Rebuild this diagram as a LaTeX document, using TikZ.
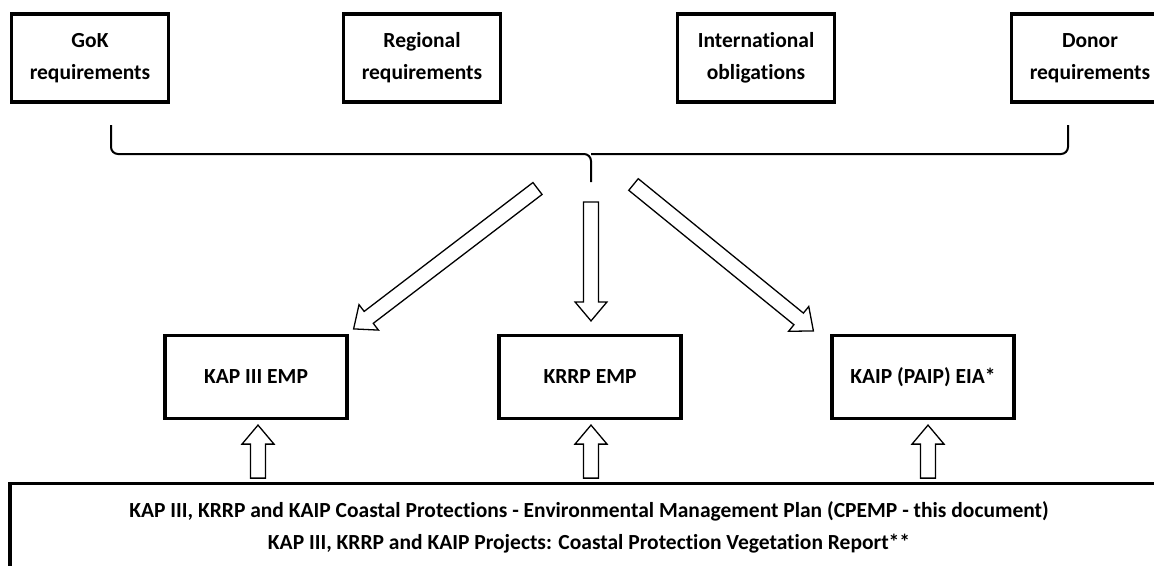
\documentclass[tikz,border=0pt]{standalone}
\usepackage{fontspec}
\setmainfont[Ligatures={NoCommon,NoRare}]{Carlito}
\usetikzlibrary{calc}

\newcommand{\hollowarrow}[2]{%
  \coordinate (hb) at ($(#2)!19pt!(#1)$);
  \draw[hollow] ($(#1)!7.5pt!90:(#2)$) -- ($(hb)!7.5pt!90:(#2)$)
    -- ($(hb)!16pt!90:(#2)$) -- (#2) -- ($(hb)!16pt!-90:(#2)$)
    -- ($(hb)!7.5pt!-90:(#2)$) -- ($(#1)!7.5pt!-90:(#2)$) -- cycle;}

\begin{document}
\begin{tikzpicture}[x=1pt,y=-1pt,
  font=\fontsize{21.5}{32}\selectfont\bfseries,
  req/.style={draw,line width=3.2pt,minimum width=157pt,minimum height=88pt,align=center},
  emp/.style={draw,line width=3.2pt,minimum width=182pt,minimum height=83pt},
  brace/.style={line width=2pt,rounded corners=7pt},
  hollow/.style={draw,line width=1.3pt,fill=white,line join=miter}]
\useasboundingbox (0,0) rectangle (1154,565);
\clip (0,0) rectangle (1154,565);
\node [req] (gok) at (90,58) {GoK\\requirements};
\node [req] (reg) at (422,58) {Regional\\requirements};
\node [req] (intl) at (756,58) {International\\obligations};
\node [req] (donor) at (1090,58) {Donor\\requirements};

\coordinate (bl) at (111,125);
\coordinate (br) at (1068,125);
\coordinate (bm) at (591,154);
\coordinate (bt) at (591,182);
\draw [brace] (bl) |- (bm) -- (bt);
\draw [brace] (br) |- (bm);

\node [emp] (kap) at (256,377) {KAP III EMP};
\node [emp] (krrp) at (590,377) {KRRP EMP};
\node [emp] (kaip) at (923,377) {KAIP (PAIP) EIA*};

\node [draw,line width=3.2pt,anchor=north,minimum width=1158pt,inner ysep=18pt,align=center] (cpemp) at (589,482)
  {KAP III, KRRP and KAIP Coastal Protections - Environmental Management Plan (CPEMP - this document)\\
   KAP III, KRRP and KAIP Projects: Coastal Protection Vegetation Report**};

\coordinate (ltail) at (537.5,188.5);
\coordinate (ltip) at ($(kap.north east)+(5,-5)$);
\coordinate (mtail) at ($(bt)+(0,20)$);
\coordinate (mtip) at ($(krrp.north)+(1,-13)$);
\coordinate (rtail) at (633.5,184.5);
\coordinate (rtip) at ($(kaip.north west)+(-17,-3)$);
\hollowarrow{ltail}{ltip}
\hollowarrow{mtail}{mtip}
\hollowarrow{rtail}{rtip}

\coordinate (u1) at ($(kap.south)+(2,58)$);
\coordinate (v1) at ($(kap.south)+(2,5)$);
\coordinate (u2) at ($(krrp.south)+(1,58)$);
\coordinate (v2) at ($(krrp.south)+(1,5)$);
\coordinate (u3) at ($(kaip.south)+(5,58)$);
\coordinate (v3) at ($(kaip.south)+(5,5)$);
\hollowarrow{u1}{v1}
\hollowarrow{u2}{v2}
\hollowarrow{u3}{v3}
\end{tikzpicture}
\end{document}
